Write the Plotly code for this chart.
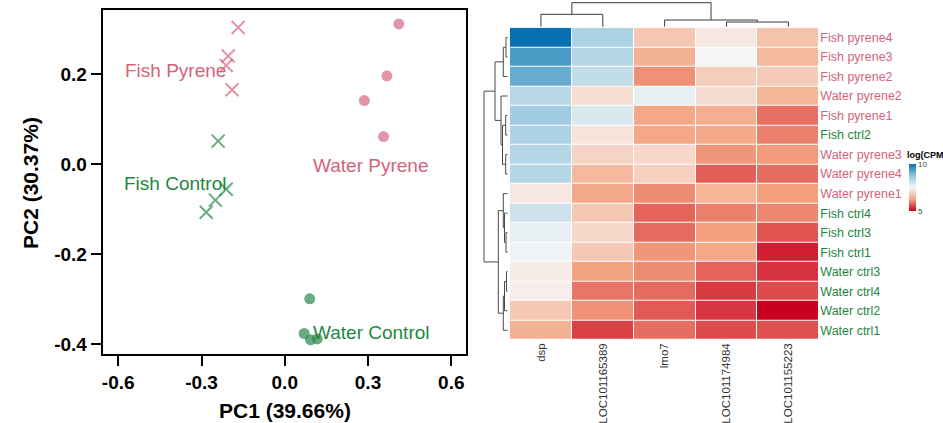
import plotly.graph_objects as go

W, H = 943, 423

# ---------------- PCA scores ----------------
fish_pyrene_pc1 = [-0.168, -0.204, -0.211, -0.190]
fish_pyrene_pc2 = [0.303, 0.240, 0.219, 0.165]
water_pyrene_pc1 = [0.411, 0.368, 0.287, 0.356]
water_pyrene_pc2 = [0.311, 0.196, 0.141, 0.061]
fish_ctrl_pc1 = [-0.240, -0.211, -0.250, -0.283]
fish_ctrl_pc2 = [0.051, -0.056, -0.080, -0.107]
water_ctrl_pc1 = [0.090, 0.070, 0.093, 0.117]
water_ctrl_pc2 = [-0.299, -0.376, -0.390, -0.388]

pc_ticks = [-0.6, -0.3, 0.0, 0.3, 0.6]
pc_tick_text = ["-0.6", "-0.3", "0.0", "0.3", "0.6"]
pc2_ticks = [-0.4, -0.2, 0.0, 0.2]
pc2_tick_text = ["-0.4", "-0.2", "0.0", "0.2"]

group_labels = ["Fish Pyrene", "Water Pyrene", "Fish Control", "Water Control"]
group_label_x = [-0.583, 0.093, -0.585, 0.093]
group_label_y = [0.208, -0.003, -0.042, -0.373]

# ---------------- heatmap ----------------
samples = ["Fish pyrene4", "Fish pyrene3", "Fish pyrene2", "Water pyrene2",
           "Fish pyrene1", "Fish ctrl2", "Water pyrene3", "Water pyrene4",
           "Water pyrene1", "Fish ctrl4", "Fish ctrl3", "Fish ctrl1",
           "Water ctrl3", "Water ctrl4", "Water ctrl2", "Water ctrl1"]
genes = ["dsp", "LOC101165389", "lmo7", "LOC101174984", "LOC101155223"]
logcpm = [
    [10.00, 8.43, 6.75, 7.27, 6.70],
    [9.38, 8.33, 6.45, 7.55, 6.55],
    [9.13, 8.15, 6.10, 6.86, 6.81],
    [8.27, 7.12, 7.69, 7.08, 6.51],
    [8.57, 7.86, 6.30, 6.40, 5.85],
    [8.43, 7.21, 6.30, 6.33, 5.98],
    [8.33, 6.97, 7.01, 6.14, 6.17],
    [8.33, 6.56, 6.90, 5.72, 5.83],
    [7.27, 6.33, 6.06, 6.51, 6.21],
    [8.02, 6.78, 5.76, 5.98, 6.02],
    [7.69, 7.01, 5.80, 6.21, 5.64],
    [7.59, 6.78, 6.14, 6.30, 5.23],
    [7.32, 6.23, 6.06, 5.76, 5.38],
    [7.37, 5.89, 5.80, 5.44, 5.57],
    [6.78, 6.10, 5.68, 5.42, 5.00],
    [6.45, 5.49, 5.83, 5.57, 5.61],
]

# hierarchical clustering trees: (merge height, left, right)
row_tree = (23.5,
            (12.5,
             (4.2, (1.5, "Fish pyrene4", "Fish pyrene3"), "Fish pyrene2"),
             (6.5, "Water pyrene2",
              (5.0, (1.8, "Fish pyrene1", "Fish ctrl2"),
                    (1.8, "Water pyrene3", "Water pyrene4")))),
            (9.2,
             (4.2, "Water pyrene1", (3.0, "Fish ctrl4", (1.5, "Fish ctrl3", "Fish ctrl1"))),
             (4.2, (3.0, (1.0, "Water ctrl3", "Water ctrl4"), "Water ctrl2"), "Water ctrl1")))
col_tree = (24.0, (12.4, "dsp", "LOC101165389"),
            (6.7, "lmo7", (4.7, "LOC101174984", "LOC101155223")))

PINK = "#d4637c"
GREEN = "#25873f"
PINK_M = "rgba(212,99,124,0.68)"
GREEN_M = "rgba(46,139,78,0.72)"
RDBU = [[0.0, "#ca0020"], [0.25, "#f4a582"], [0.5, "#f7f7f7"],
        [0.75, "#92c5de"], [1.0, "#0571b0"]]


def px_x(p):
    return p / W


def px_y(p):
    return 1 - p / H


def dendro(tree, pos):
    """Return (centre, height, segments) of a nested merge tree."""
    if isinstance(tree, str):
        return pos[tree], 0.0, []
    h, a, b = tree
    ca, ha, sa = dendro(a, pos)
    cb, hb, sb = dendro(b, pos)
    segs = sa + sb + [((ca, ha), (ca, h)), ((ca, h), (cb, h)), ((cb, h), (cb, hb))]
    return (ca + cb) / 2, h, segs


fig = go.Figure()

# PCA scatter
fig.add_trace(go.Scatter(x=fish_pyrene_pc1, y=fish_pyrene_pc2, mode="markers",
                         marker=dict(symbol="x-thin", size=13, line=dict(color=PINK_M, width=2)),
                         xaxis="x", yaxis="y", showlegend=False))
fig.add_trace(go.Scatter(x=water_pyrene_pc1, y=water_pyrene_pc2, mode="markers",
                         marker=dict(symbol="circle", size=11, color=PINK_M),
                         xaxis="x", yaxis="y", showlegend=False))
fig.add_trace(go.Scatter(x=fish_ctrl_pc1, y=fish_ctrl_pc2, mode="markers",
                         marker=dict(symbol="x-thin", size=13, line=dict(color=GREEN_M, width=2)),
                         xaxis="x", yaxis="y", showlegend=False))
fig.add_trace(go.Scatter(x=water_ctrl_pc1, y=water_ctrl_pc2, mode="markers",
                         marker=dict(symbol="circle", size=11, color=GREEN_M),
                         xaxis="x", yaxis="y", showlegend=False))

annotations = []
for lab, gx, gy in zip(group_labels, group_label_x, group_label_y):
    annotations.append(dict(x=gx, y=gy, xref="x", yref="y", text=lab, showarrow=False,
                            xanchor="left", yanchor="middle",
                            font=dict(family="Arial, Liberation Sans", size=19,
                                      color=PINK if "Pyrene" in lab else GREEN)))

# heatmap
fig.add_trace(go.Heatmap(z=logcpm, x=list(range(len(genes))), y=list(range(len(samples))),
                         zmin=5, zmax=10, colorscale=RDBU, xgap=1, ygap=1,
                         xaxis="x2", yaxis="y2",
                         colorbar=dict(thickness=7, len=47, lenmode="pixels",
                                       x=px_x(909), xanchor="left", xref="paper",
                                       y=px_y(187.5), yanchor="middle", yref="paper",
                                       outlinewidth=0, tickvals=[5, 10], ticktext=["5", "10"],
                                       ticks="inside", ticklen=3, tickcolor="white",
                                       tickfont=dict(family="Arial, Liberation Sans", size=8, color="#444"),
                                       ypad=0, xpad=0)))

# row dendrogram
row_pos = {s: i for i, s in enumerate(samples)}
_, _, rsegs = dendro(row_tree, row_pos)
rx, ry = [], []
for (p0, h0), (p1, h1) in rsegs:
    rx += [h0, h1, None]
    ry += [p0, p1, None]
fig.add_trace(go.Scatter(x=rx, y=ry, mode="lines", line=dict(color="#4a4a4a", width=1),
                         xaxis="x3", yaxis="y3", showlegend=False, hoverinfo="skip"))

# column dendrogram
col_pos = {g: i for i, g in enumerate(genes)}
_, _, csegs = dendro(col_tree, col_pos)
cx, cy = [], []
for (p0, h0), (p1, h1) in csegs:
    cx += [p0, p1, None]
    cy += [h0, h1, None]
fig.add_trace(go.Scatter(x=cx, y=cy, mode="lines", line=dict(color="#3a3a3a", width=1),
                         xaxis="x4", yaxis="y4", showlegend=False, hoverinfo="skip"))

bold_tick = dict(family="Arial, Liberation Sans", size=19, color="black", weight="bold")
pca_axis = dict(showline=True, linecolor="black", linewidth=2, mirror=True,
                ticks="outside", ticklen=10, tickwidth=2, tickcolor="black",
                showgrid=False, zeroline=False, tickfont=bold_tick)

hidden = dict(visible=False, showgrid=False, zeroline=False)

row_text = ['<span style="color:%s">%s</span>' % (PINK if "pyrene" in s else GREEN, s)
            for s in samples]

fig.update_layout(
    width=W, height=H, margin=dict(l=0, r=0, t=0, b=0),
    paper_bgcolor="white", plot_bgcolor="white", showlegend=False,
    xaxis=dict(domain=[px_x(102.7), px_x(465.7)], range=[-0.656, 0.652],
               tickvals=pc_ticks, ticktext=pc_tick_text, anchor="y", **pca_axis),
    yaxis=dict(domain=[px_y(354), px_y(10)], range=[-0.4215, 0.342],
               tickvals=pc2_ticks, ticktext=pc2_tick_text, anchor="x", **pca_axis),
    xaxis2=dict(domain=[px_x(510), px_x(819.3)], range=[-0.5, 4.5], anchor="y2",
                tickvals=list(range(len(genes))), ticktext=genes, tickangle=-90,
                showgrid=False, zeroline=False, ticks="",
                tickfont=dict(family="Arial, Liberation Sans", size=11.5, color="#333")),
    yaxis2=dict(domain=[px_y(340), px_y(27.7)], range=[15.5, -0.5], anchor="x2",
                side="right", tickvals=list(range(len(samples))), ticktext=row_text,
                showgrid=False, zeroline=False, ticks="",
                tickfont=dict(family="Arial, Liberation Sans", size=12.5)),
    xaxis3=dict(domain=[px_x(480), px_x(510)], range=[27.5, -2.5], anchor="y3", **hidden),
    yaxis3=dict(domain=[px_y(340), px_y(27.7)], range=[15.5, -0.5], anchor="x3", **hidden),
    xaxis4=dict(domain=[px_x(510), px_x(819.3)], range=[-0.5, 4.5], anchor="y4", **hidden),
    yaxis4=dict(domain=[px_y(27.7), 1.0], range=[-1, 26.7], anchor="x4", **hidden),
)

# axis titles and colour-bar title
annotations += [
    dict(x=px_x(285), y=px_y(410), xref="paper", yref="paper", text="PC1 (39.66%)",
         showarrow=False, xanchor="center", yanchor="middle",
         font=dict(family="Arial, Liberation Sans", size=21, color="black", weight="bold")),
    dict(x=px_x(30), y=px_y(183), xref="paper", yref="paper", text="PC2 (30.37%)",
         showarrow=False, textangle=-90, xanchor="center", yanchor="middle",
         font=dict(family="Arial, Liberation Sans", size=21, color="black", weight="bold")),
    dict(x=px_x(905), y=px_y(155), xref="paper", yref="paper", text="log(CPM)",
         showarrow=False, xanchor="left", yanchor="middle",
         font=dict(family="Arial, Liberation Sans", size=9, color="black", weight="bold")),
]
fig.update_layout(annotations=annotations)

fig.write_html("out.html")
